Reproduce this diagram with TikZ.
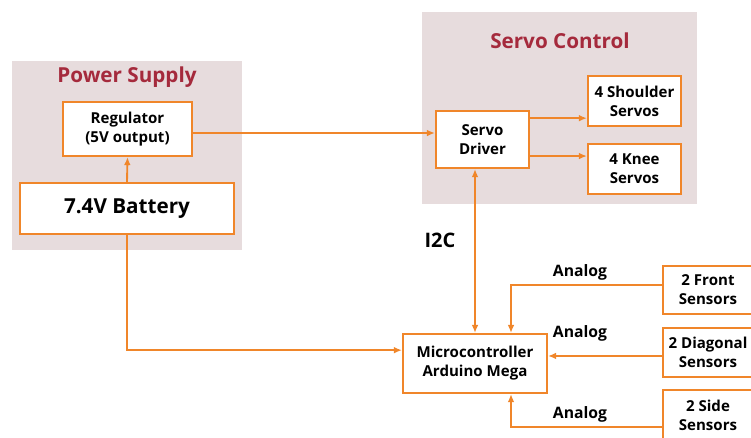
\documentclass[tikz,border=0pt]{standalone}
\usepackage{fontspec}
\setmainfont{Open Sans}
\usetikzlibrary{arrows.meta,positioning}
\definecolor{wire}{HTML}{F0862A}
\definecolor{groupbg}{HTML}{E7DCDD}
\definecolor{grouptitle}{HTML}{A52A3C}
\tikzset{
  px/.style={x=0.75pt,y=-0.75pt},
  group/.style={fill=groupbg,draw=none},
  grouplabel/.style={text=grouptitle,font=\bfseries\fontsize{15.5}{18}\selectfont},
  blockbox/.style={draw=wire,line width=1.6pt,fill=white,align=center,
    font=\bfseries\fontsize{11.3}{14.3}\selectfont,inner sep=0pt},
  wirearrow/.style={draw=wire,line width=1.4pt,-{Latex[length=6pt,width=5pt]}},
  wireboth/.style={draw=wire,line width=1.4pt,{Latex[length=6pt,width=5pt]}-{Latex[length=6pt,width=5pt]}},
  sigtext/.style={font=\bfseries\fontsize{11.8}{14}\selectfont},
}
\begin{document}
\begin{tikzpicture}[px]
\useasboundingbox (0,0) rectangle (751,437);
\clip (0,0) rectangle (751,437);

% group backgrounds
\fill[group] (12,61) rectangle (242,250);
\fill[group] (422,12) rectangle (697,204);
\node[grouplabel] (pstitle) at (127,77) {Power Supply};
\node[grouplabel] (sctitle) at (560,41) {Servo Control};

% power supply blocks
\node[blockbox,minimum width=129*0.75pt,minimum height=54*0.75pt] (reg) at (127.5,129) {Regulator\\(5V output)};
\node[blockbox,minimum width=214*0.75pt,minimum height=51*0.75pt,font=\bfseries\fontsize{15.5}{18}\selectfont] (bat) at (127,208.5) {7.4V Battery};

% servo blocks
\node[blockbox,minimum width=93*0.75pt,minimum height=57*0.75pt] (drv) at (482.5,139.5) {Servo\\Driver};
\node[blockbox,minimum width=93*0.75pt,minimum height=50*0.75pt] (sh) at (634.5,101) {4 Shoulder\\Servos};
\node[blockbox,minimum width=93*0.75pt,minimum height=50*0.75pt] (kn) at (634.5,169) {4 Knee\\Servos};

% controller and sensors
\node[blockbox,minimum width=144*0.75pt,minimum height=59*0.75pt] (mc) at (475,363.5) {Microcontroller\\Arduino Mega};
\node[blockbox,minimum width=90*0.75pt,minimum height=48*0.75pt] (front) at (708,290) {2 Front\\Sensors};
\node[blockbox,minimum width=90*0.75pt,minimum height=49*0.75pt] (diag) at (708,352.5) {2 Diagonal\\Sensors};
\node[blockbox,minimum width=90*0.75pt,minimum height=50*0.75pt] (side) at (708,415) {2 Side\\Sensors};

% power wiring
\draw[wirearrow] (bat.north) -- (reg.south);
\draw[wirearrow] ([yshift=-3pt]reg.east) -- ([yshift=-3pt]reg.east -| drv.west);
\draw[wirearrow] (bat.south) |- ([yshift=10pt]mc.west);

% servo outputs
\draw[wirearrow] ([yshift=16pt]drv.east) -- ([yshift=16pt]drv.east -| sh.west);
\draw[wirearrow] ([yshift=-12.4pt]drv.east) -- ([yshift=-12.4pt]drv.east -| kn.west);

% I2C bus
\draw[wireboth] (mc.north |- drv.south) -- (mc.north);
\node[font=\bfseries\fontsize{15}{18}\selectfont] (i2c) at (440,240) {I2C};

% sensor inputs
\draw[wirearrow] ([yshift=3.7pt]front.west) -| ([xshift=27pt]mc.north);
\draw[wirearrow] ([yshift=-2.6pt]diag.west) -- ([yshift=-2.6pt]diag.west -| mc.east);
\draw[wirearrow] ([yshift=-9pt]side.west) -| ([xshift=27pt]mc.south);
\node[sigtext] (a1) at (580,272) {Analog};
\node[sigtext] (a2) at (580,333) {Analog};
\node[sigtext] (a3) at (580,414) {Analog};
\end{tikzpicture}
\end{document}
